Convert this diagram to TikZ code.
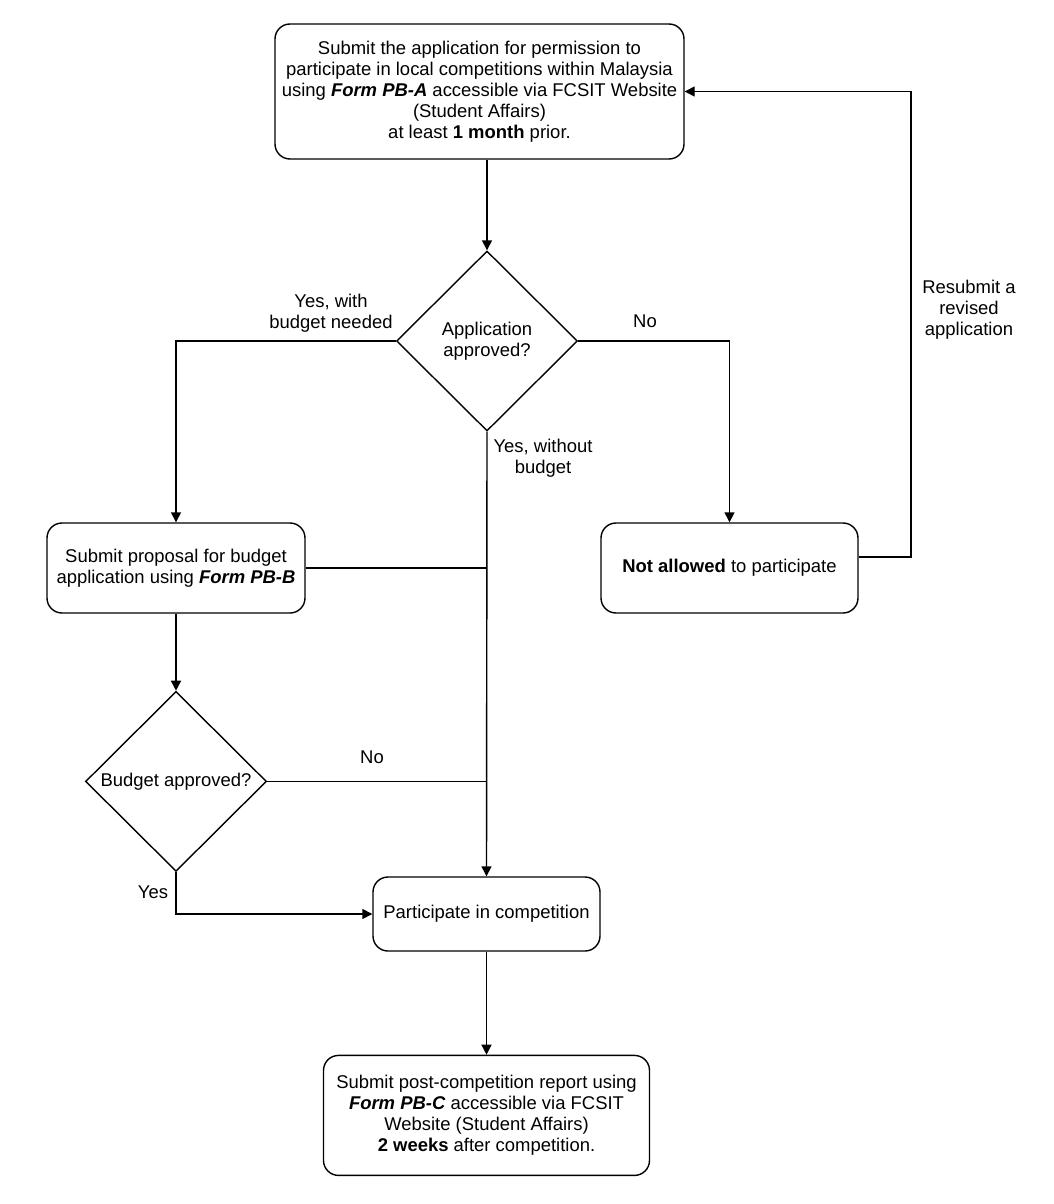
\documentclass[tikz,border=0pt]{standalone}
\usepackage{fontspec}
\setmainfont{Liberation Sans}
\usetikzlibrary{arrows.meta, positioning, shapes.geometric}

\begin{document}
\begin{tikzpicture}[
  font=\fontsize{10.5}{12}\selectfont,
  line width=0.8pt,
  box/.style={draw, rounded corners=0.3cm, align=center, inner sep=2pt},
  decision/.style={draw, diamond, align=center, inner sep=0pt, minimum width=3.62cm, minimum height=3.6cm},
  arrow/.style={-{Triangle[length=0.2cm,width=0.2cm]}},
  lbl/.style={align=center, inner sep=0pt}
]
\useasboundingbox (0,0) rectangle (21.08,-24.08);

\node[box, minimum width=8.18cm, minimum height=2.7cm] (apply) at (9.59,-1.83)
  {Submit the application for permission to\\
   participate in local competitions within Malaysia\\
   using \textbf{\textit{Form PB-A}} accessible via FCSIT Website\\
   (Student Affairs)\\
   at least \textbf{1 month} prior.};
\node[decision] (appok) at (9.74,-6.82) {Application\\approved?};
\node[box, minimum width=5.16cm, minimum height=1.8cm] (budget) at (3.52,-11.36)
  {Submit proposal for budget\\application using \textbf{\textit{Form PB-B}}};
\node[box, minimum width=5.14cm, minimum height=1.8cm] (notok) at (14.59,-11.36)
  {\textbf{Not allowed} to participate};
\node[decision, below=1.54cm of budget] (budok) {Budget approved?};
\node[box, minimum width=4.54cm, minimum height=1.48cm] (part) at (9.73,-18.28)
  {Participate in competition};
\node[box, minimum width=6.52cm, minimum height=2.4cm, below=2.06cm of part] (report)
  {Submit post-competition report using\\
   \textbf{\textit{Form PB-C}} accessible via FCSIT\\
   Website (Student Affairs)\\
   \textbf{2 weeks} after competition.};

\coordinate (back) at (18.22,-11.14);

\draw[arrow] (apply.south -| appok.north) -- (appok.north);
\draw[arrow] (appok.west) -| (budget.north);
\draw[arrow] (appok.east) -| (notok.north);
\draw[arrow] (appok.south) -- (part.north);
\draw (budget.east) -- (budget.east -| appok.south);
\draw[arrow] (budget.south) -- (budok.north);
\draw (budok.east) -- (budok.east -| appok.south);
\draw[arrow] (budok.south) |- (part.west);
\draw[arrow] (notok.east |- back) -- (back) |- (apply.east);
\draw[arrow] (part.south) -- (report.north);

\node[lbl] (lwith) at (6.62,-6.26) {Yes, with\\budget needed};
\node[lbl] (lno) at (12.9,-6.42) {No};
\node[lbl] (lwithout) at (10.86,-9.16) {Yes, without\\budget};
\node[lbl] (lbno) at (7.44,-15.14) {No};
\node[lbl] (lyes) at (3.06,-17.84) {Yes};
\node[lbl] (lresub) at (19.38,-6.2) {Resubmit a\\revised\\application};
\end{tikzpicture}
\end{document}
